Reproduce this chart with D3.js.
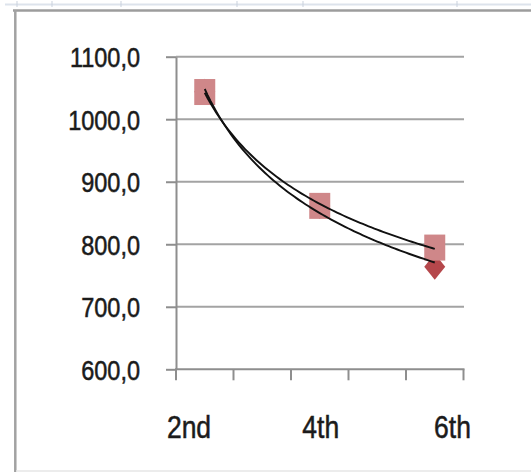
<!DOCTYPE html>
<html>
<head>
<meta charset="utf-8">
<script src="https://cdn.jsdelivr.net/npm/d3@7"></script>
<style>
  html, body { margin: 0; padding: 0; background: #fff; }
  svg { display: block; }
  text { font-family: "Liberation Sans", Arial, sans-serif; fill: #1b1b1b; stroke: #1b1b1b; stroke-width: 0.45px; }
</style>
</head>
<body>
<script>
// Category axis (labels every second category)
const categories = ["2nd", "3rd", "4th", "5th", "6th"];
const shownLabels = ["2nd", "4th", "6th"];

// Value axis ticks
const yTicks = [600, 700, 800, 900, 1000, 1100];

// Series values (null = empty cell)
const squareValues  = [1043.5, null, 861.4, null, 794.7];
const diamondValues = [1044,   null, 861,   null, 764];

const W = 531, H = 472;
const svg = d3.select("body").append("svg").attr("width", W).attr("height", H);

// --- worksheet frame around the chart object ---
svg.append("line").attr("x1", 5).attr("x2", W).attr("y1", 4.5).attr("y2", 4.5)
  .attr("stroke", "#dde3ec").attr("stroke-width", 2);
svg.append("g").selectAll("line").data([17, 52, 121, 237, 303, 457]).join("line")
  .attr("x1", d => d).attr("x2", d => d).attr("y1", 1).attr("y2", 7)
  .attr("stroke", "#c9d1dd").attr("stroke-width", 1);
svg.append("line").attr("x1", 13).attr("x2", W).attr("y1", 10.5).attr("y2", 10.5)
  .attr("stroke", "#9c9c9c").attr("stroke-width", 2.5);
svg.append("line").attr("x1", 15.3).attr("x2", 15.3).attr("y1", 10).attr("y2", H)
  .attr("stroke", "#a2a2a2").attr("stroke-width", 2.5);
svg.append("line").attr("x1", 16).attr("x2", W).attr("y1", 471).attr("y2", 471)
  .attr("stroke", "#e6e6e6").attr("stroke-width", 1.5);

// --- scales ---
const x = d3.scaleBand().domain(categories).range([176, 463.5]);
const bw = x.bandwidth();
const cx = c => x(c) + bw / 2;
const xIdx = d3.scaleLinear().domain([1, categories.length])
  .range([cx(categories[0]), cx(categories[categories.length - 1])]);
const y = d3.scaleLinear().domain([600, 1100]).range([369.3, 56.7]);

const fmt = d3.formatLocale({ decimal: ",", thousands: ".", grouping: [3], currency: ["", ""] }).format(".1f");

// --- gridlines ---
svg.append("g").selectAll("line").data(yTicks.filter(v => v > 600)).join("line")
  .attr("x1", 176).attr("x2", 464)
  .attr("y1", d => y(d)).attr("y2", d => y(d))
  .attr("stroke", "#a3a3a3").attr("stroke-width", 2);

// --- value axis ---
const yAxis = svg.append("g").attr("transform", "translate(176,0)")
  .call(d3.axisLeft(y).tickValues(yTicks).tickFormat(fmt).tickSizeInner(10).tickSizeOuter(0).tickPadding(26));
yAxis.select(".domain").attr("stroke", "#8e8e8e").attr("stroke-width", 2);
yAxis.selectAll(".tick line").attr("stroke", "#8e8e8e").attr("stroke-width", 2);
yAxis.selectAll(".tick text")
  .attr("font-size", 23.5).attr("dy", "0.36em")
  .attr("transform", "scale(1,1.19)")
  .style("font-family", "'Liberation Sans', Arial, sans-serif")
  .attr("fill", "#1b1b1b").attr("stroke", "#1b1b1b").attr("stroke-width", 0.45);

// --- category axis ---
svg.append("line").attr("x1", 175).attr("x2", 464.5).attr("y1", y(600)).attr("y2", y(600))
  .attr("stroke", "#8e8e8e").attr("stroke-width", 2);
const edges = categories.map(c => x(c)).concat([x.range()[1]]);
svg.append("g").selectAll("line").data(edges).join("line")
  .attr("x1", d => d).attr("x2", d => d)
  .attr("y1", y(600)).attr("y2", y(600) + 11)
  .attr("stroke", "#8e8e8e").attr("stroke-width", 2);

const xLabel = d3.scalePoint().domain(shownLabels)
  .range([x.range()[0] + 13, x.range()[1] - 11]);
svg.append("g").selectAll("text").data(shownLabels).join("text")
  .attr("transform", d => `translate(${xLabel(d)},438) scale(1,1.18)`)
  .attr("text-anchor", "middle").attr("font-size", 26.5).text(d => d);

// --- markers ---
const pts = vals => vals.map((v, i) => ({ i: i + 1, c: categories[i], v })).filter(d => d.v != null);

svg.append("g").selectAll("path").data(pts(diamondValues)).join("path")
  .attr("transform", d => `translate(${cx(d.c)},${y(d.v)})`)
  .attr("d", "M0,-13L10.5,0L0,13L-10.5,0Z")
  .attr("fill", "#b5474b");

svg.append("g").selectAll("rect").data(pts(squareValues)).join("rect")
  .attr("x", d => cx(d.c) - 10.5).attr("y", d => y(d.v) - 13)
  .attr("width", 21).attr("height", 26)
  .attr("fill", "#cf8789");

// --- power trendlines (least squares on ln x, ln y) ---
function powerFit(points) {
  const X = points.map(p => Math.log(p.i)), Y = points.map(p => Math.log(p.v));
  const mx = d3.mean(X), my = d3.mean(Y);
  const b = d3.sum(X, (xv, k) => (xv - mx) * (Y[k] - my)) / d3.sum(X, xv => (xv - mx) ** 2);
  const a = Math.exp(my - b * mx);
  return t => a * Math.pow(t, b);
}
const first = 1, last = categories.length;
const line = d3.line().x(d => xIdx(d[0])).y(d => y(d[1])).curve(d3.curveLinear);
[squareValues, diamondValues].forEach(vals => {
  const f = powerFit(pts(vals));
  const samples = d3.range(first, last + 0.0001, 0.05).map(t => [t, f(t)]);
  svg.append("path").datum(samples).attr("d", line)
    .attr("fill", "none").attr("stroke", "#111").attr("stroke-width", 1.9);
});
</script>
</body>
</html>
